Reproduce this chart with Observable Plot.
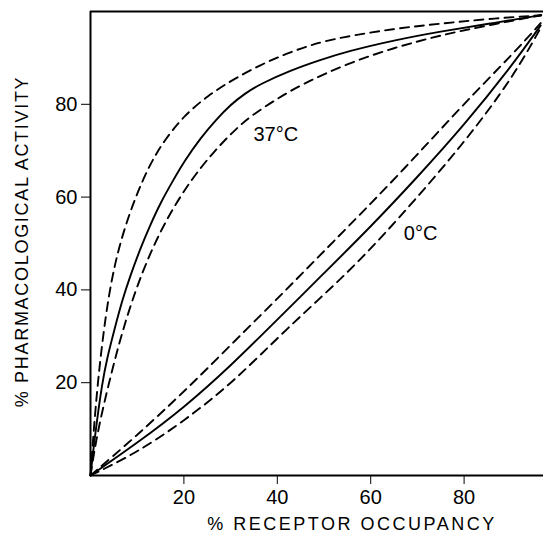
<!DOCTYPE html>
<html>
<head>
<meta charset="utf-8">
<script src="https://cdn.jsdelivr.net/npm/d3@7"></script>
<script src="https://cdn.jsdelivr.net/npm/@observablehq/plot@0.6"></script>
<style>
  body { margin: 0; background: #fff; }
</style>
</head>
<body>
<div id="chart"></div>
<script>
// Tick labels
const xTicks = [20, 40, 60, 80];
const yTicks = [20, 40, 60, 80];

// 37°C curves (% receptor occupancy -> % pharmacological activity)
const hotMidX = [0, 1, 2.5, 3.6, 5, 6.8, 8.5, 10.7, 12.8, 15, 17.8, 20, 23.6, 27, 30, 33, 36.4, 42.8, 49.3, 55, 65, 75, 85, 96.5];
const hotMidY = [0, 9, 20, 25.5, 31, 37.8, 43, 49, 54, 58.8, 63.8, 67.6, 72.8, 76.8, 79.9, 82.3, 84.4, 87.3, 89.6, 91.4, 93.8, 95.7, 97.3, 99.2];
const hotHiX = [0, 1.4, 3.9, 6.5, 9.6, 12.8, 16, 20, 25, 30.6, 36.4, 42.1, 47.8, 53.5, 65, 75, 85, 96.5];
const hotHiY = [0, 19.8, 39.9, 51, 60, 67.3, 72.5, 77.5, 81.8, 85.4, 88.5, 91, 93, 94.4, 96.3, 97.4, 98.4, 99.2];
const hotLoX = [0, 1.4, 3.9, 6.5, 9.6, 12.8, 16.4, 21.4, 26.4, 30.6, 34.3, 40, 45, 55, 65, 75, 85, 96.5];
const hotLoY = [0, 9, 19.8, 30, 39.9, 48, 55.5, 63.6, 69.8, 74.2, 77.5, 81.2, 84.2, 88.8, 92.2, 94.9, 97, 99.2];

// 0°C curves
const coldMidX = [0, 10, 20, 30, 40, 50, 60, 70, 80, 90, 96.4];
const coldMidY = [0, 7, 14.6, 23.6, 33.6, 43.6, 53.6, 64.3, 75.5, 88, 97];
const coldHiX = [0, 9.6, 20.3, 31, 41.8, 51.4, 65.7, 80, 90.6, 96.4];
const coldHiY = [0, 8.3, 18.3, 29.1, 39.9, 49.8, 64.4, 80.2, 91, 97.5];
const coldLoX = [0, 9.6, 20.3, 31, 41.8, 55, 65.7, 80, 90.6, 96.4];
const coldLoY = [0, 4.7, 11.9, 20.5, 31.5, 43.5, 55, 71.6, 86, 96.5];

// Curve labels
const curveLabels = ["37°C", "0°C"];
const curveLabelX = [34.9, 67.1];
const curveLabelY = [73.4, 52.2];

const xLabel = "% RECEPTOR OCCUPANCY";
const yLabel = "% PHARMACOLOGICAL ACTIVITY";

const series = [
  {name: "37-mid", dashed: false, xs: hotMidX, ys: hotMidY},
  {name: "37-hi", dashed: true, xs: hotHiX, ys: hotHiY},
  {name: "37-lo", dashed: true, xs: hotLoX, ys: hotLoY},
  {name: "0-mid", dashed: false, xs: coldMidX, ys: coldMidY},
  {name: "0-hi", dashed: true, xs: coldHiX, ys: coldHiY},
  {name: "0-lo", dashed: true, xs: coldLoX, ys: coldLoY}
];
const rows = series.flatMap(s => s.xs.map((x, i) => ({series: s.name, dashed: s.dashed, x, y: s.ys[i]})));
const labelRows = curveLabels.map((t, i) => ({t, x: curveLabelX[i], y: curveLabelY[i]}));

const chart = Plot.plot({
  width: 543,
  height: 540,
  marginLeft: 90,
  marginRight: 0,
  marginTop: 11,
  marginBottom: 65,
  style: {fontFamily: "Liberation Sans, Arial, sans-serif", fontSize: "20px", color: "#000", background: "#fff"},
  x: {domain: [0, 97], ticks: xTicks, tickSize: 9, tickPadding: 5, label: null},
  y: {domain: [0, 100], ticks: yTicks, tickSize: 9, tickPadding: 4, label: null},
  marks: [
    Plot.line(rows.filter(d => !d.dashed), {x: "x", y: "y", z: "series", curve: "basis", stroke: "#000", strokeWidth: 1.9}),
    Plot.line(rows.filter(d => d.dashed), {x: "x", y: "y", z: "series", curve: "basis", stroke: "#000", strokeWidth: 1.9, strokeDasharray: "9,6"}),
    Plot.ruleX([0], {stroke: "#000", strokeWidth: 2}),
    Plot.ruleY([0, 100], {stroke: "#000", strokeWidth: 2}),
    Plot.text(labelRows, {x: "x", y: "y", text: "t", textAnchor: "start", lineAnchor: "middle", fontSize: 20, fill: "#000"}),
    Plot.text([xLabel], {frameAnchor: "bottom", text: d => d, textAnchor: "middle", dx: 35, dy: 49, lineAnchor: "middle", fontSize: 18, fill: "#000"}),
    Plot.text([yLabel], {frameAnchor: "left", text: d => d, textAnchor: "middle", rotate: -90, dx: -68, dy: -2, lineAnchor: "middle", fontSize: 18, fill: "#000"})
  ]
});

d3.select(chart).selectAll("text")
  .filter(function () { return this.textContent === xLabel; })
  .attr("letter-spacing", "2.5px");
d3.select(chart).selectAll("text")
  .filter(function () { return this.textContent === yLabel; })
  .attr("letter-spacing", "1.7px");

document.getElementById("chart").appendChild(chart);
</script>
</body>
</html>
